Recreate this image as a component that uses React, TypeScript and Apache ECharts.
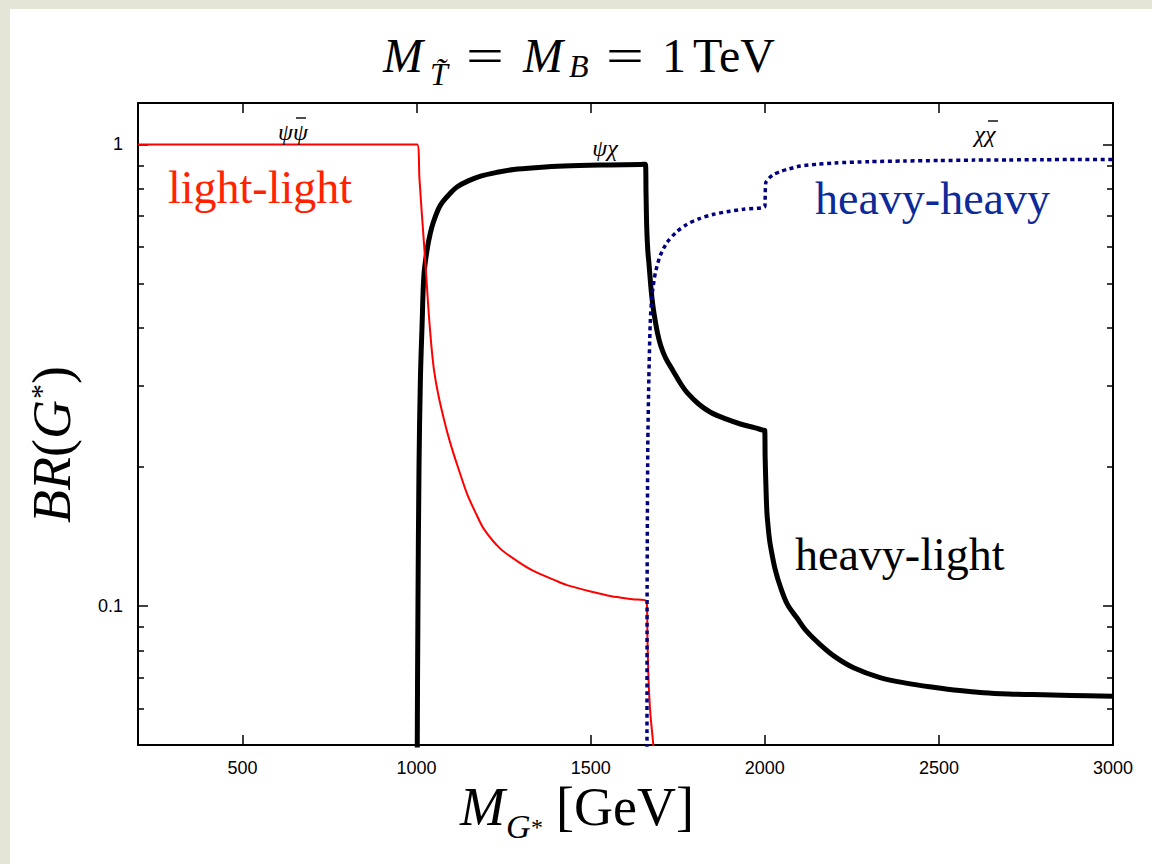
import React, { useEffect, useRef } from "react";
import * as echarts from "echarts";

// ---- axis ranges & ticks ----
const X_MIN = 200;
const X_MAX = 3000;
const Y_MIN = 0.05;
const Y_MAX = 1.23;
const xTickValues = [500, 1000, 1500, 2000, 2500, 3000];
const yMajorTicks = [0.1, 1];
const yMinorTicks = [0.05, 0.06, 0.07, 0.08, 0.09, 0.2, 0.3, 0.4, 0.5, 0.6, 0.7, 0.8, 0.9];

// ---- series data: [M_G* (GeV), BR] ----
const lightLight: [number, number][] = [
  [200, 1], [1002, 1], [1008, 0.85], [1015, 0.71], [1022, 0.6], [1030, 0.49],
  [1035, 0.43], [1042, 0.37], [1050, 0.325], [1062, 0.288], [1078, 0.255],
  [1095, 0.228], [1115, 0.204], [1145, 0.175], [1170, 0.159], [1193, 0.147],
  [1241, 0.133], [1290, 0.125], [1337, 0.119], [1400, 0.1135], [1432, 0.111],
  [1500, 0.1075], [1560, 0.105], [1620, 0.1035], [1661, 0.1025], [1663, 0.085],
  [1666, 0.07], [1671, 0.059], [1680, 0.05], [1690, 0.042],
];

const heavyLight: [number, number][] = [
  [1000, 0.01], [1002, 0.05], [1004, 0.1], [1007, 0.2], [1011, 0.31], [1016, 0.41],
  [1021, 0.52], [1030, 0.59], [1040, 0.645], [1050, 0.685], [1069, 0.74],
  [1098, 0.786], [1117, 0.81], [1150, 0.835], [1184, 0.854], [1230, 0.87],
  [1279, 0.883], [1350, 0.892], [1423, 0.898], [1550, 0.903], [1645, 0.9055],
  [1657, 0.906], [1659, 0.78], [1661, 0.66], [1664, 0.59], [1668, 0.545],
  [1672, 0.5], [1676, 0.465], [1682, 0.43], [1692, 0.39], [1702, 0.365],
  [1715, 0.345], [1738, 0.322], [1760, 0.302], [1777, 0.29], [1810, 0.274],
  [1844, 0.263], [1890, 0.254], [1930, 0.248], [1970, 0.2435], [1995, 0.2405],
  [2000, 0.24], [2001, 0.21], [2004, 0.175], [2006, 0.16], [2008, 0.153],
  [2014, 0.1385], [2021, 0.1292], [2030, 0.12], [2044, 0.1105], [2065, 0.1008],
  [2092, 0.0943], [2120, 0.0882], [2159, 0.0825], [2200, 0.0778], [2255, 0.0735],
  [2331, 0.07], [2410, 0.068], [2484, 0.0667], [2560, 0.0656], [2628, 0.0649],
  [2700, 0.0645], [2771, 0.0643], [2880, 0.064], [3000, 0.0638],
];

const heavyHeavy: [number, number][] = [
  [1661.5, 0.01], [1662, 0.1], [1664, 0.22], [1667, 0.31], [1671, 0.41],
  [1676, 0.47], [1686, 0.528], [1700, 0.575], [1719, 0.613], [1745, 0.645],
  [1777, 0.672], [1810, 0.69], [1853, 0.706], [1900, 0.717], [1939, 0.724],
  [2000, 0.733], [2001, 0.76], [2003, 0.827], [2012, 0.845], [2025, 0.861],
  [2045, 0.874], [2064, 0.883], [2102, 0.898], [2150, 0.906], [2200, 0.912],
  [2300, 0.918], [2400, 0.921], [2500, 0.923], [2600, 0.925], [2700, 0.926],
  [2800, 0.927], [2900, 0.928], [3000, 0.928],
];

const SERIF = "'Liberation Serif', 'Times New Roman', serif";
const SANS = "'Liberation Sans', Arial, sans-serif";

type TOpts = {
  italic?: boolean;
  color?: string;
  align?: string;
  rotation?: number;
  family?: string;
  scaleX?: number;
};
function txt(text: string, x: number, y: number, size: number, o: TOpts = {}) {
  const align = o.align ?? "left";
  return {
    type: "text",
    x,
    y,
    rotation: o.rotation ?? 0,
    scaleX: o.scaleX ?? 1,
    silent: true,
    z: 100,
    style: {
      text,
      fontSize: size,
      fontFamily: o.family ?? SERIF,
      fontStyle: o.italic ? "italic" : "normal",
      fill: o.color ?? "#000",
      textAlign: align,
      align,
      textVerticalAlign: "middle",
      verticalAlign: "middle",
    },
  };
}
function bar(x1: number, x2: number, y: number) {
  return {
    type: "line",
    silent: true,
    z: 100,
    shape: { x1, y1: y, x2, y2: y },
    style: { stroke: "#000", lineWidth: 1.4 },
  };
}

const axisLine = { show: true, onZero: false, lineStyle: { color: "#000", width: 2 } };
const tickStyle = { color: "#000", width: 1.5 };
const labelFont = { fontFamily: SANS, fontSize: 18, color: "#000" };

function yAxisDef(position: string, major: boolean, withLabels: boolean, withLine: boolean) {
  const vals = major ? yMajorTicks : yMinorTicks;
  return {
    type: "log",
    logBase: 10,
    min: Y_MIN,
    max: Y_MAX,
    position,
    axisLine: withLine ? axisLine : { show: false },
    axisTick: { show: true, inside: true, length: major ? 10 : 6, lineStyle: tickStyle, customValues: vals },
    axisLabel: withLabels
      ? {
          show: true,
          customValues: yMajorTicks,
          formatter: (v: number) => (Math.abs(v - 1) < 1e-9 ? "1" : String(Math.round(v * 100) / 100)),
          ...labelFont,
          margin: 15,
        }
      : { show: false },
    splitLine: { show: false },
    minorTick: { show: false },
  };
}

function xAxisDef(position: string, withLabels: boolean) {
  return {
    type: "value",
    min: X_MIN,
    max: X_MAX,
    position,
    axisLine,
    axisTick: { show: true, inside: true, length: 10, lineStyle: tickStyle, customValues: xTickValues },
    axisLabel: withLabels
      ? {
          show: true,
          customValues: xTickValues,
          formatter: (v: number) => String(Math.round(v)),
          ...labelFont,
          margin: 14,
        }
      : { show: false },
    splitLine: { show: false },
  };
}

const lineCommon = {
  type: "line",
  xAxisIndex: 0,
  yAxisIndex: 0,
  showSymbol: false,
  symbol: "none",
  silent: true,
  clip: true,
  smooth: 0.25,
};

const option = {
  animation: false,
  grid: { left: 138, right: 39, top: 103, bottom: 119, containLabel: false },
  xAxis: [xAxisDef("bottom", true), xAxisDef("top", false)],
  yAxis: [
    yAxisDef("left", true, true, true),
    yAxisDef("left", false, false, false),
    yAxisDef("right", true, false, true),
    yAxisDef("right", false, false, false),
  ],
  series: [
    {
      ...lineCommon,
      name: "heavy-light",
      data: heavyLight,
      smooth: 0.35,
      z: 2,
      lineStyle: { color: "#000", width: 5, join: "miter" },
    },
    {
      ...lineCommon,
      name: "light-light",
      data: lightLight,
      z: 3,
      lineStyle: { color: "#ff0000", width: 2 },
    },
    {
      ...lineCommon,
      name: "heavy-heavy",
      data: heavyHeavy,
      z: 4,
      lineStyle: { color: "#000080", width: 3.5, type: [4, 3.6], cap: "butt" },
    },
  ],
  graphic: [
    // title  M_T~ = M_B = 1 TeV
    txt("M", 383, 55.7, 48, { italic: true }),
    txt("T\u0303", 430, 74, 32, { italic: true }),
    txt("=", 485, 55.7, 48, { align: "center", scaleX: 1.4 }),
    txt("M", 523, 55.7, 48, { italic: true }),
    txt("B", 569, 66, 32, { italic: true }),
    txt("=", 625, 55.7, 48, { align: "center", scaleX: 1.4 }),
    txt("1", 662, 55.7, 48),
    txt("TeV", 693, 55.7, 48),
    // x-axis title  M_G* [GeV]
    txt("M", 460, 806.6, 54, { italic: true }),
    txt("G", 506, 826.4, 34, { italic: true }),
    txt("*", 531, 827, 24),
    txt("[GeV]", 556, 806.6, 54),
    // y-axis title  BR(G*)
    txt("BR", 51.6, 523, 54, { italic: true, rotation: Math.PI / 2 }),
    txt("(", 51.6, 457, 54, { rotation: Math.PI / 2 }),
    txt("G", 51.6, 439, 54, { italic: true, rotation: Math.PI / 2 }),
    txt("*", 40.8, 399, 30, { rotation: Math.PI / 2 }),
    txt(")", 51.6, 384, 54, { rotation: Math.PI / 2 }),
    // curve labels
    txt("light-light", 168, 187.4, 46, { color: "#ff2200" }),
    txt("heavy-heavy", 815, 198.4, 46, { color: "#0c2a99" }),
    txt("heavy-light", 795, 554.4, 46),
    // channel labels
    txt("\u03C8\u03C8", 293, 132, 24, { align: "center", italic: true }),
    bar(296, 306, 118),
    txt("\u03C8\u03C7", 605, 148, 24, { align: "center", italic: true }),
    txt("\u03C7\u03C7", 985, 134, 24, { align: "center", italic: true }),
    bar(988, 998, 121),
  ],
};

export default function App() {
  const ref = useRef<HTMLDivElement>(null);
  useEffect(() => {
    const el = ref.current;
    if (!el) return;
    const chart = echarts.init(el, null, { renderer: "svg" });
    chart.setOption(option as any);
    return () => chart.dispose();
  }, []);
  return (
    <div
      style={{
        position: "fixed",
        left: 0,
        top: 0,
        width: 1152,
        height: 864,
        overflow: "hidden",
        background: "#e4e4d7",
      }}
    >
      <div style={{ position: "absolute", left: 10, top: 9, right: 0, bottom: 0, background: "#ffffff" }} />
      <div ref={ref} style={{ position: "absolute", left: 0, top: 0, width: 1152, height: 864 }} />
    </div>
  );
}
